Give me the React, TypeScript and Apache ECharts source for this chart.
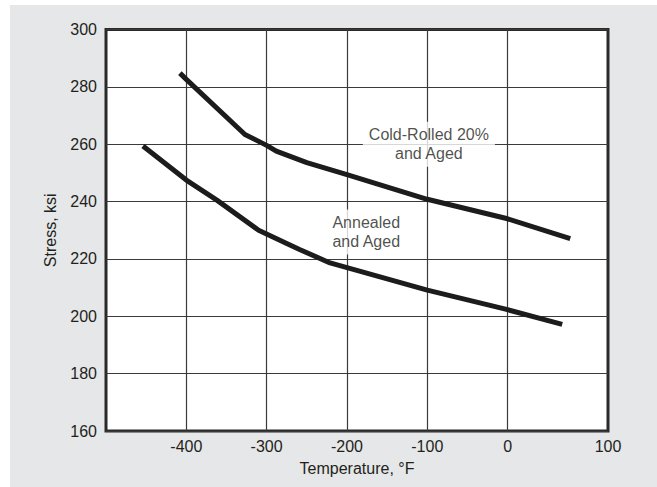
import React, { useEffect, useRef } from "react";
import * as echarts from "echarts";

// Temperature (°F) / stress (ksi) readings
const coldRolledTemp = [-408, -400, -327, -300, -288, -250, -200, -100, 0, 78];
const coldRolledStress = [284.8, 282.6, 263.4, 259.6, 257.6, 253.6, 249.4, 240.8, 234.0, 227.1];

const annealedTemp = [-454, -400, -362, -310, -275, -259, -221, -100, 0, 68];
const annealedStress = [259.4, 247.5, 240.5, 230.0, 225.4, 223.3, 218.6, 209.1, 202.3, 197.2];

// Axis ticks
const X_MIN = -500;
const X_EDGE = 125; // right frame edge (the reference's last interval is stretched)
const xGridValues = [-400, -300, -200, -100, 0];
const xLabelValues = [-400, -300, -200, -100, 0, X_EDGE];
const xLabelTexts = ["-400", "-300", "-200", "-100", "0", "100"];
const Y_MIN = 160;
const Y_MAX = 300;
const Y_STEP = 20;

// Annotations
const annotations = [
  { text: "Cold-Rolled 20%\nand Aged", at: [-98, 260] },
  { text: "Annealed\nand Aged", at: [-176, 229.4] },
];

const FONT = "'Liberation Sans', Arial, Helvetica, sans-serif";
const TEXT = "#231f20";
const FS = 16;

export default function App() {
  const ref = useRef<HTMLDivElement>(null);
  useEffect(() => {
    if (!ref.current) return;
    const chart = echarts.init(ref.current, null, { renderer: "svg" });
    const pair = (xs: number[], ys: number[]) => xs.map((x, i) => [x, ys[i]]);
    const lineStyle = { color: "#1c1c1c", width: 5, cap: "butt" as const, join: "round" as const };
    chart.setOption({
      animation: false,
      backgroundColor: "transparent",
      textStyle: { fontFamily: FONT },
      grid: {
        left: 106,
        right: 49,
        top: 29.5,
        bottom: 56,
        show: true,
        backgroundColor: "#ffffff",
        borderColor: "#2a2a2a",
        borderWidth: 3,
      },
      xAxis: {
        type: "value",
        min: X_MIN,
        max: X_EDGE,
        name: "Temperature, °F",
        nameLocation: "middle",
        nameGap: 29,
        nameTextStyle: { fontSize: FS, color: TEXT, fontFamily: FONT },
        axisLine: { show: false },
        axisTick: { show: false, customValues: xGridValues },
        axisLabel: {
          customValues: xLabelValues,
          formatter: (v: number) => xLabelTexts[xLabelValues.indexOf(v)] ?? String(v),
          fontSize: FS,
          color: TEXT,
          margin: 7,
          fontFamily: FONT,
        },
        splitLine: { show: true, lineStyle: { color: "#3a3a3a", width: 1.2 } },
      },
      yAxis: {
        type: "value",
        min: Y_MIN,
        max: Y_MAX,
        interval: Y_STEP,
        name: "Stress, ksi",
        nameLocation: "middle",
        nameGap: 48,
        nameTextStyle: { fontSize: FS, color: TEXT, fontFamily: FONT },
        axisLine: { show: false },
        axisTick: { show: false },
        axisLabel: { fontSize: FS, color: TEXT, margin: 9, fontFamily: FONT },
        splitLine: { show: true, lineStyle: { color: "#3a3a3a", width: 1.2 } },
      },
      series: [
        {
          type: "line",
          data: pair(coldRolledTemp, coldRolledStress),
          showSymbol: false,
          lineStyle,
        },
        {
          type: "line",
          data: pair(annealedTemp, annealedStress),
          showSymbol: false,
          lineStyle,
        },
        {
          type: "scatter",
          symbolSize: 0,
          silent: true,
          data: annotations.map((a) => ({ value: a.at, label: { formatter: a.text } })),
          label: {
            show: true,
            position: "inside",
            align: "center",
            verticalAlign: "middle",
            fontSize: FS,
            lineHeight: 19.5,
            color: TEXT,
            fontFamily: FONT,
            backgroundColor: "#ffffff",
            padding: [3, 6],
          },
        },
      ],
    });
    return () => chart.dispose();
  }, []);
  return (
    <div style={{ position: "absolute", left: 0, top: 0, width: 657, height: 487, background: "#ffffff" }}>
      <div style={{ position: "absolute", left: 10, top: 5, width: 647, height: 482, background: "#e6e7e8" }} />
      <div ref={ref} style={{ position: "absolute", left: 0, top: 0, width: 657, height: 487 }} />
    </div>
  );
}
